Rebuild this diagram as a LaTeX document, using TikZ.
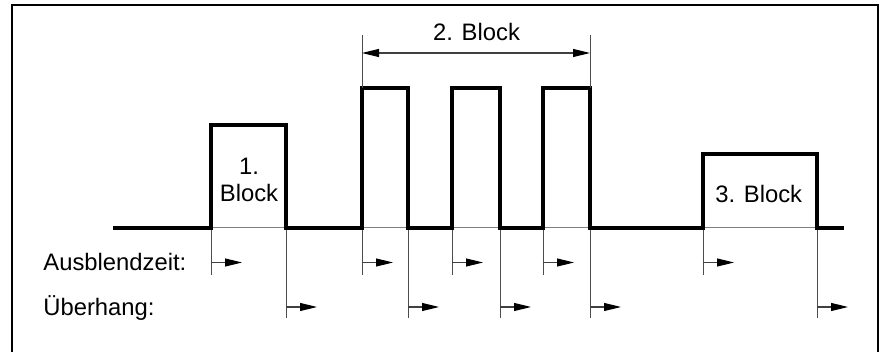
\documentclass[tikz,border=0pt]{standalone}
\usepackage{fontspec}
\setmainfont{Liberation Sans}
\usetikzlibrary{arrows.meta}
\tikzstyle{frame} = [draw, line width=0.65pt]
\tikzstyle{wave} = [draw, line width=1.6pt, line join=miter]
\tikzstyle{idle} = [draw, black!50, line width=0.5pt]
\tikzstyle{guide} = [draw, black!70, line width=0.5pt]
\tikzstyle{line} = [draw, black!75, line width=0.55pt,
  -{Triangle[length=8.5pt,width=4pt,color=black]}]
\tikzstyle{dimline} = [line,
  {Triangle[length=8.5pt,width=4pt,color=black]}-{Triangle[length=8.5pt,width=4pt,color=black]}]
\tikzstyle{texto} = [inner sep=0pt, font=\fontsize{11.9}{13.5}\selectfont]
% Rising edge: short guide line and arrow in the "Ausblendzeit" row
\newcommand{\ausblend}[2]{%
  \coordinate (r#1) at (#2,228);
  \coordinate (rl#1) at (#2,275);
  \coordinate (ra#1) at (#2,262.5);
  \coordinate (rb#1) at ({#2+31},262.5);
  \path [guide] (r#1) -- (rl#1);
  \path [line] (ra#1) -- (rb#1);}
% Falling edge: long guide line and arrow in the "Ueberhang" row
\newcommand{\ueberhang}[2]{%
  \coordinate (f#1) at (#2,228);
  \coordinate (fl#1) at (#2,318);
  \coordinate (fa#1) at (#2,307);
  \coordinate (fb#1) at ({#2+31},307);
  \path [guide] (f#1) -- (fl#1);
  \path [line] (fa#1) -- (fb#1);}

\begin{document}
\begin{tikzpicture}[x=0.5pt,y=-0.5pt]
\useasboundingbox (0,0) rectangle (879,352);
% Frame
\path [frame] (12,360) -- (12,5) -- (878,5) -- (878,360);

% Draw edges and arrows
\ausblend{1}{211} \ueberhang{1}{286}
\ausblend{2}{362} \ueberhang{2}{408}
\ausblend{3}{452} \ueberhang{3}{500}
\ausblend{4}{543} \ueberhang{4}{590}
\ausblend{5}{703} \ueberhang{5}{817}

% Idle level under the pulses
\path [idle] (r1) -- (f1);
\path [idle] (r2) -- (f2);
\path [idle] (r3) -- (f3);
\path [idle] (r4) -- (f4);
\path [idle] (r5) -- (f5);

% Signal
\path [wave] (113,228) -- (211,228) -- (211,125) -- (286,125) -- (286,228)
  -- (362,228) -- (362,88) -- (408,88) -- (408,228)
  -- (452,228) -- (452,88) -- (500,88) -- (500,228)
  -- (543,228) -- (543,88) -- (590,88) -- (590,228)
  -- (703,228) -- (703,154) -- (817,154) -- (817,228) -- (844,228);

% Dimension of the second block
\coordinate (d1) at (362,35);
\coordinate (d2) at (590,35);
\coordinate (da) at (362,53);
\coordinate (db) at (590,53);
\path [guide] (d1) -- (362,88);
\path [guide] (d2) -- (590,88);
\path [dimline] (da) -- (db);

% Texts
\node (b1) [texto, align=center] at (249,179.5) {1.\\Block};
\node (b2) [texto, anchor=base] at (476.5,40.7) {2. Block};
\node (b3) [texto, anchor=base] at (758.7,202.7) {3. Block};
\node (t1) [texto, anchor=base west] at (43,270.7) {Ausblendzeit:};
\node (t2) [texto, anchor=base west] at (43,316) {Überhang:};
\end{tikzpicture}
\end{document}
